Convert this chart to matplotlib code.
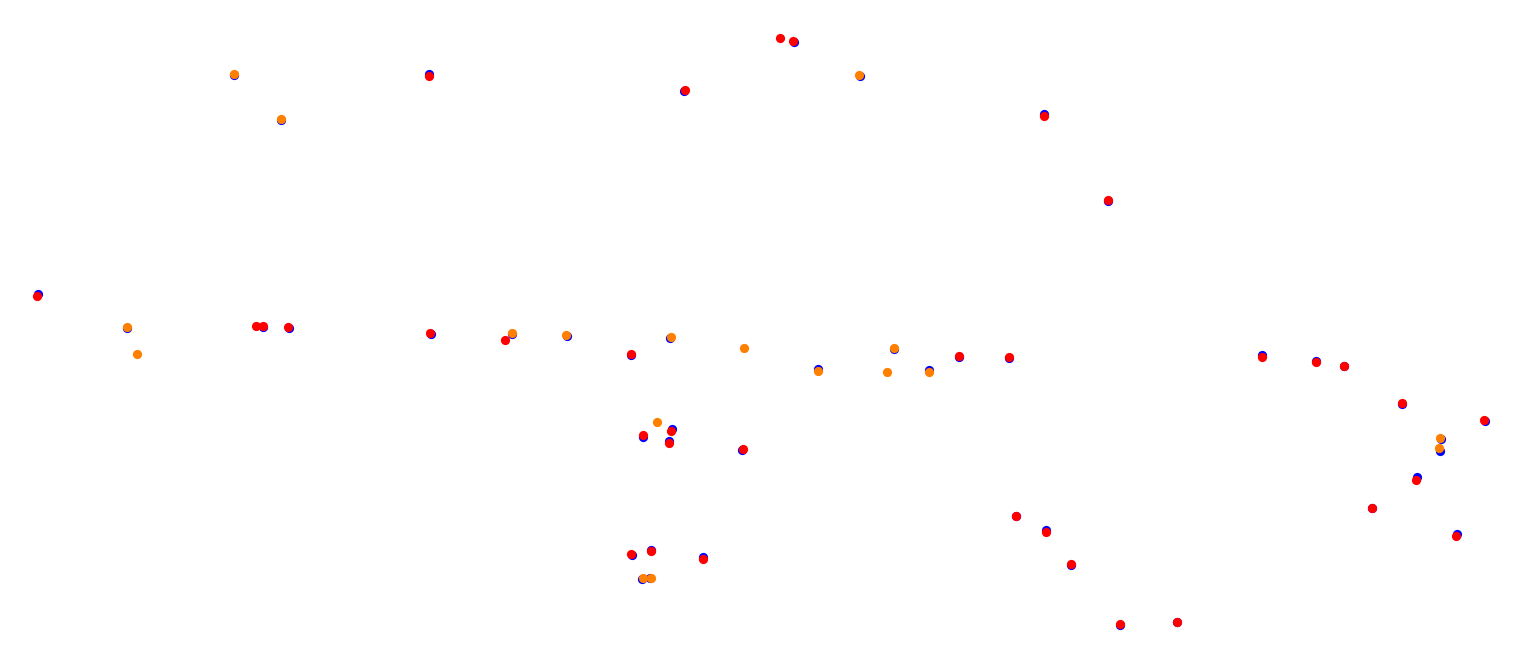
import matplotlib
matplotlib.use("Agg")
import matplotlib.pyplot as plt

# marker positions (track map coordinates, y grows downward)
blue_x = [38, 127, 234, 281, 263, 289, 429, 431, 512, 567, 631, 670, 684, 794, 860,
          1044, 1108, 818, 894, 929, 959, 1009, 1262, 1316, 1344, 1402, 1485, 1441,
          1440, 1417, 1372, 1457, 1016, 1046, 1071, 1120, 1177, 643, 672, 669, 742,
          632, 651, 703, 642, 650]
blue_y = [294, 328, 75, 120, 327, 328, 74, 334, 334, 336, 355, 338, 91, 42, 76,
          114, 201, 369, 349, 370, 357, 358, 355, 361, 366, 404, 421, 439,
          451, 477, 508, 534, 516, 530, 565, 625, 622, 437, 429, 441, 450,
          555, 550, 557, 579, 578]

red_x = [37, 256, 263, 288, 429, 430, 505, 631, 685, 780, 793, 1044, 1108, 959, 1009,
         1262, 1316, 1344, 1402, 1484, 1416, 1372, 1456, 1016, 1046, 1071, 1120, 1177,
         643, 671, 669, 743, 631, 651, 703]
red_y = [296, 326, 326, 327, 76, 333, 340, 354, 90, 38, 41, 116, 200, 356, 357,
         357, 362, 366, 403, 420, 480, 508, 536, 516, 532, 564, 624, 622,
         435, 431, 443, 449, 554, 551, 559]

orange_x = [127, 137, 234, 281, 512, 566, 671, 744, 859, 818, 887, 894, 929, 1440,
            1439, 657, 643, 651]
orange_y = [327, 354, 74, 119, 333, 335, 337, 348, 75, 371, 372, 348, 372, 438,
            448, 422, 578, 578]

fig = plt.figure(figsize=(15.3, 6.68), dpi=100)
ax = fig.add_axes([0, 0, 1, 1])
ax.scatter(blue_x, blue_y, s=44, c="#0000ff", linewidths=0, zorder=1)
ax.scatter(red_x, red_y, s=44, c="#ff0000", linewidths=0, zorder=2)
ax.scatter(orange_x, orange_y, s=44, c="#ff8000", linewidths=0, zorder=3)
ax.set_xlim(0, 1530)
ax.set_ylim(668, 0)
ax.axis("off")
fig.savefig("out.png", dpi=100, facecolor="white")
